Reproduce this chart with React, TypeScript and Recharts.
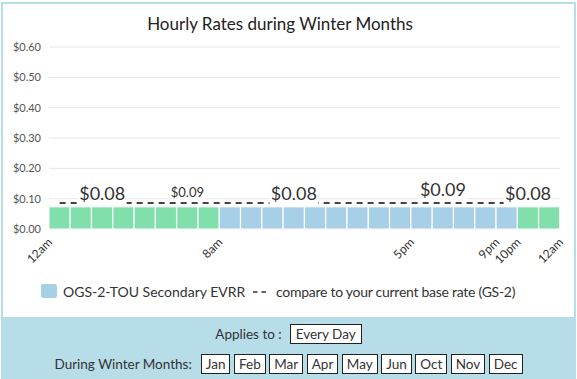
import React from "react";
import {
  ComposedChart,
  Bar,
  Line,
  XAxis,
  YAxis,
  CartesianGrid,
  Cell,
  LabelList,
} from "recharts";

// hour of day each column starts at
const hours = [0, 1, 2, 3, 4, 5, 6, 7, 8, 9, 10, 11, 12, 13, 14, 15, 16, 17, 18, 19, 20, 21, 22, 23];
// OGS-2-TOU column heights
const touRate = [
  0.073, 0.073, 0.073, 0.073, 0.073, 0.073, 0.073, 0.073,
  0.073, 0.073, 0.073, 0.073, 0.073, 0.073, 0.073, 0.073,
  0.073, 0.073, 0.073, 0.073, 0.073, 0.073, 0.073, 0.073,
];
// GS-2 base rate (dashed)
const baseRate = [
  0.086, 0.086, 0.086, 0.086, 0.086, 0.086, 0.086, 0.086,
  0.086, 0.086, 0.086, 0.086, 0.086, 0.086, 0.086, 0.086,
  0.086, 0.086, 0.086, 0.086, 0.086, 0.086, 0.086, 0.086,
];
const periods = [
  "off", "off", "off", "off", "off", "off", "off", "off",
  "on", "on", "on", "on", "on", "on", "on", "on", "on", "on", "on", "on", "on", "on",
  "off", "off",
];
const rateLabels = [
  "", "", "$0.08", "", "", "", "$0.09", "", "", "", "", "$0.08",
  "", "", "", "", "", "", "$0.09", "", "", "", "$0.08", "",
];
const tickHours = [0, 8, 17, 21, 22, 24];
const tickLabels = ["12am", "8am", "5pm", "9pm", "10pm", "12am"];
const yTicks = [0, 0.1, 0.2, 0.3, 0.4, 0.5, 0.6];
const months = ["Jan", "Feb", "Mar", "Apr", "May", "Jun", "Oct", "Nov", "Dec"];

const FONT = "Lato, 'Open Sans', sans-serif";
const GREEN = "#80dfaa";
const BLUE = "#a8cfe8";
const PANEL = "#b7dde8";

const data = hours.map((h, i) => ({
  x: h + 0.5,
  tou: touRate[i],
  base: baseRate[i],
  period: periods[i],
  label: rateLabels[i],
}));

// label look per hour index (size + how far above the dashed line)
const labelLook: Record<number, { size: number; lift: number; pad: number }> = {
  2: { size: 18, lift: 3, pad: 5 },
  6: { size: 13, lift: 5.5, pad: 3 },
  11: { size: 18, lift: 3, pad: 5 },
  18: { size: 18, lift: 7, pad: 4 },
  22: { size: 18, lift: 3, pad: 5 },
};

function RateLabel(props: any) {
  const { x, y, value, index } = props;
  if (!value) return null;
  const look = labelLook[index] ?? { size: 18, lift: 3, pad: 5 };
  const w = look.size * 2.6;
  const base = y - look.lift;
  return (
    <g>
      <rect
        x={x - w / 2 - 1}
        y={base - look.size * 0.85}
        width={w + 2}
        height={look.size * 0.85 + look.pad}
        fill="#fff"
      />
      <text x={x} y={base} textAnchor="middle" fontSize={look.size} fill="#333">
        {value}
      </text>
    </g>
  );
}

function HourTick(props: any) {
  const { x, payload } = props;
  const i = tickHours.indexOf(payload.value);
  const ax = x + 4;
  const ay = 229 + 14;
  return (
    <text
      x={ax}
      y={ay}
      transform={`rotate(-45 ${ax} ${ay})`}
      textAnchor="end"
      fontSize={12}
      fill="#333"
    >
      {tickLabels[i]}
    </text>
  );
}

const boxStyle: React.CSSProperties = {
  display: "inline-block",
  border: "1px solid #222",
  background: "#fff",
  padding: "0 4px",
  height: 18,
  lineHeight: "18px",
  marginLeft: 3.5,
};

export default function App() {
  return (
    <div
      style={{
        position: "absolute",
        left: 0,
        top: 0,
        width: 577,
        height: 379,
        overflow: "hidden",
        fontFamily: FONT,
        color: "#333",
        background: "#fff",
      }}
    >
      <div
        style={{
          position: "absolute",
          left: 1,
          top: 2,
          width: 571,
          height: 316,
          borderTop: `2px solid ${PANEL}`,
          borderLeft: `2px solid ${PANEL}`,
          borderRight: `2px solid ${PANEL}`,
        }}
      />
      <div
        style={{
          position: "absolute",
          left: 0,
          width: 560,
          top: 13,
          textAlign: "center",
          fontSize: 17,
          lineHeight: "22px",
          color: "#222",
        }}
      >
        Hourly Rates during Winter Months
      </div>
      <div style={{ position: "absolute", left: 0, top: 0 }}>
        <ComposedChart
          width={577}
          height={270}
          data={data}
          margin={{ top: 47, right: 17, bottom: 0, left: 0 }}
        >
          <CartesianGrid vertical={false} stroke="#e6e6e6" />
          <XAxis
            dataKey="x"
            type="number"
            domain={[0, 24]}
            ticks={tickHours}
            interval={0}
            height={41}
            axisLine={false}
            tickLine={false}
            tick={<HourTick />}
          />
          <YAxis
            domain={[0, 0.6]}
            ticks={yTicks}
            width={49}
            axisLine={false}
            tickLine={false}
            tick={{ fill: "#555", fontSize: 11 }}
            tickFormatter={(v: number) => `$${v.toFixed(2)}`}
          />
          <Bar dataKey="tou" barSize={21} stroke="#fff" strokeWidth={1} isAnimationActive={false}>
            {data.map((d, i) => (
              <Cell key={i} fill={d.period === "off" ? GREEN : BLUE} />
            ))}
          </Bar>
          <Line
            dataKey="base"
            type="linear"
            stroke="#444"
            strokeWidth={2}
            strokeDasharray="6 5"
            dot={false}
            activeDot={false}
            isAnimationActive={false}
          >
            <LabelList dataKey="label" content={<RateLabel />} />
          </Line>
        </ComposedChart>
      </div>

      {/* legend */}
      <div
        style={{
          position: "absolute",
          left: 41,
          top: 284,
          width: 16,
          height: 14,
          background: BLUE,
          borderRadius: 2,
        }}
      />
      <div style={{ position: "absolute", left: 63, top: 283, fontSize: 14, lineHeight: "18px" }}>
        OGS-2-TOU Secondary EVRR
      </div>
      <svg style={{ position: "absolute", left: 253, top: 290 }} width={14} height={4}>
        <line x1={0} y1={2} x2={13} y2={2} stroke="#333" strokeWidth={1.5} strokeDasharray="4.5 4" />
      </svg>
      <div
        style={{
          position: "absolute",
          left: 276,
          top: 283,
          fontSize: 14,
          lineHeight: "18px",
          letterSpacing: -0.27,
        }}
      >
        compare to your current base rate (GS-2)
      </div>

      {/* bottom panel */}
      <div
        style={{
          position: "absolute",
          left: 1,
          top: 317,
          width: 575,
          height: 62,
          background: PANEL,
          fontSize: 13.5,
          color: "#333",
        }}
      >
        <div style={{ position: "absolute", top: 7, left: 0, width: 575, textAlign: "center" }}>
          <span>Applies to :</span>
          <span style={{ ...boxStyle, padding: "0 5px", marginLeft: 8 }}>Every Day</span>
        </div>
        <div style={{ position: "absolute", top: 37, left: 0, width: 575, textAlign: "center" }}>
          <span style={{ marginRight: 5.5 }}>During Winter Months:</span>
          {months.map((m) => (
            <span key={m} style={boxStyle}>
              {m}
            </span>
          ))}
        </div>
      </div>
    </div>
  );
}
